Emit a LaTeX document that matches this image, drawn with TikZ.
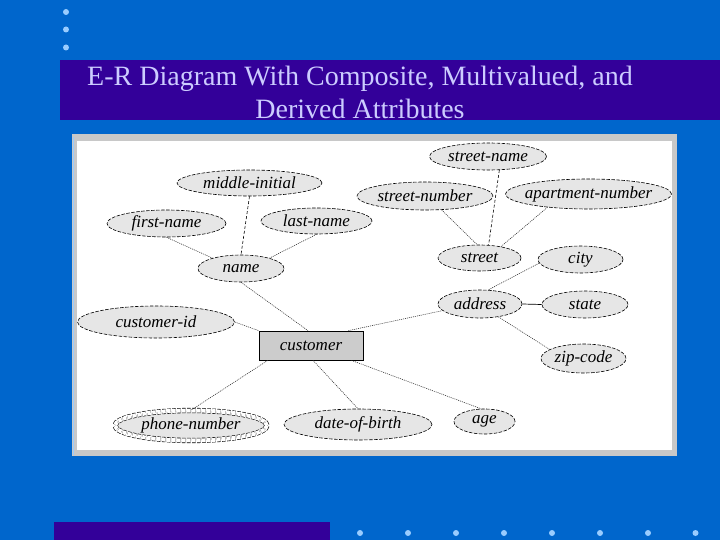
\documentclass[tikz,border=0pt]{standalone}
\usepackage{fontspec}
\setmainfont{Liberation Serif}
\usetikzlibrary{shapes.geometric,calc}
\definecolor{bgblue}{HTML}{0066CC}
\definecolor{barpurple}{HTML}{330099}
\definecolor{titletxt}{HTML}{CCCCFF}
\definecolor{dotblue}{HTML}{99CCFF}
\definecolor{panelgray}{HTML}{C8C8C8}
\definecolor{attrfill}{HTML}{E6E6E6}
\definecolor{entfill}{HTML}{CCCCCC}
\begin{document}
\begin{tikzpicture}[x=1pt,y=-1pt,
  attr/.style={ellipse, draw=black, line width=0.6pt, dash pattern=on 3.5pt off 1.5pt,
    fill=attrfill, inner xsep=-25pt, inner ysep=-5pt, font=\fontsize{17}{20}\selectfont\itshape},
  ent/.style={rectangle, draw=black, line width=0.7pt, fill=entfill, inner sep=0pt,
    font=\fontsize{17}{20}\selectfont\itshape},
  conn/.style={draw=black!85, line width=0.55pt, dash pattern=on 1pt off 1pt},
  connd/.style={draw=black, line width=0.6pt, dash pattern=on 3pt off 2pt},
  conns/.style={draw=black, line width=0.7pt},
  bulletdot/.style={circle, fill=dotblue, inner sep=0pt, minimum size=6pt},
  titlestyle/.style={font=\fontsize{28}{33}\selectfont, text=titletxt, anchor=base, inner sep=0pt}]

\useasboundingbox (0,0) rectangle (720,540);
\fill[bgblue] (0,0) rectangle (720,540);

% top bullets
\node[bulletdot] (tb1) at (66,12) {};
\node[bulletdot] (tb2) at (66,29.5) {};
\node[bulletdot] (tb3) at (66,47.5) {};

% title bar
\fill[barpurple] (60,60) rectangle (720,120);
\node[titlestyle] (title1) at (360,86) {E-R Diagram With Composite, Multivalued, and};
\node[titlestyle] (title2) at (360,119) {Derived Attributes};

% bottom bar and bullets
\fill[barpurple] (54,522) rectangle (330,540);
\foreach \i/\x in {1/360,2/408,3/456,4/504,5/552,6/600,7/648,8/695.5}
  \node[bulletdot] (bb\i) at (\x,533) {};

% panel
\fill[panelgray] (72,134) rectangle (677,456);
\fill[white] (76.5,141) rectangle (672,450);
\draw[dotblue, line width=1.2pt] (73.2,137) -- (73.2,455);

% entity
\node[ent, minimum width=104pt, minimum height=29pt] (customer) at (311,345.5) {customer};

% attributes
\node[attr, minimum width=117pt, minimum height=27pt] (streetname) at (488,156.5) {street-name};
\node[attr, minimum width=145pt, minimum height=26pt] (middleinitial) at (249.5,183) {middle-initial};
\node[attr, minimum width=136pt, minimum height=28pt] (streetnumber) at (425,196) {street-number};
\node[attr, minimum width=166pt, minimum height=30pt] (aptnumber) at (588.5,194) {apartment-number};
\node[attr, minimum width=119pt, minimum height=27pt] (firstname) at (166.5,223.5) {first-name};
\node[attr, minimum width=111pt, minimum height=26pt] (lastname) at (316.5,221) {last-name};
\node[attr, minimum width=86pt, minimum height=27pt] (name) at (241,268.5) {name};
\node[attr, minimum width=83pt, minimum height=26pt] (street) at (479.5,258) {street};
\node[attr, minimum width=85pt, minimum height=27pt] (city) at (580.5,259.5) {city};
\node[attr, minimum width=157pt, minimum height=32pt] (customerid) at (156,322) {customer-id};
\node[attr, minimum width=84pt, minimum height=28pt] (address) at (480,304) {address};
\node[attr, minimum width=86pt, minimum height=27pt] (state) at (585,304.5) {state};
\node[attr, minimum width=85pt, minimum height=29pt] (zipcode) at (583.5,358.5) {zip-code};
\node[attr, minimum width=152pt, minimum height=30pt, double=white, double distance=4pt] (phone) at (191,425.5) {phone-number};
\node[attr, minimum width=148pt, minimum height=31pt] (dob) at (358,424.5) {date-of-birth};
\node[attr, minimum width=61pt, minimum height=25pt] (age) at (484.5,421.5) {age};

% connectors
\draw[conn] (firstname.south) -- (name.160);
\draw[conn] (lastname.south) -- (name.20);
\draw[connd] (middleinitial.south) -- (name.north);
\draw[conn] (name.south) -- ($(customer.north)+(-3,0)$);
\draw[conn] (customerid.east) -- (customer.north west);
\draw[conn] (customer.199.5) -- (phone.north);
\draw[conn] ($(customer.south)+(2,0)$) -- (dob.north);
\draw[conn] ($(customer.south east)+(-12,0)$) -- (age.105);
\draw[conn] ($(customer.north east)+(-15,0)$) -- (address.190);
\draw[conn] (address.-35) -- (zipcode.165);
\draw[conns] (address.east) -- (state.west);
\draw[conn] (city.185) -- (address.60);
\draw[conn] (streetnumber.-40) -- (street.100);
\draw[connd] (streetname.-50) -- (street.55);
\draw[conn] (aptnumber.-162) -- (street.28);

\end{tikzpicture}
\end{document}
